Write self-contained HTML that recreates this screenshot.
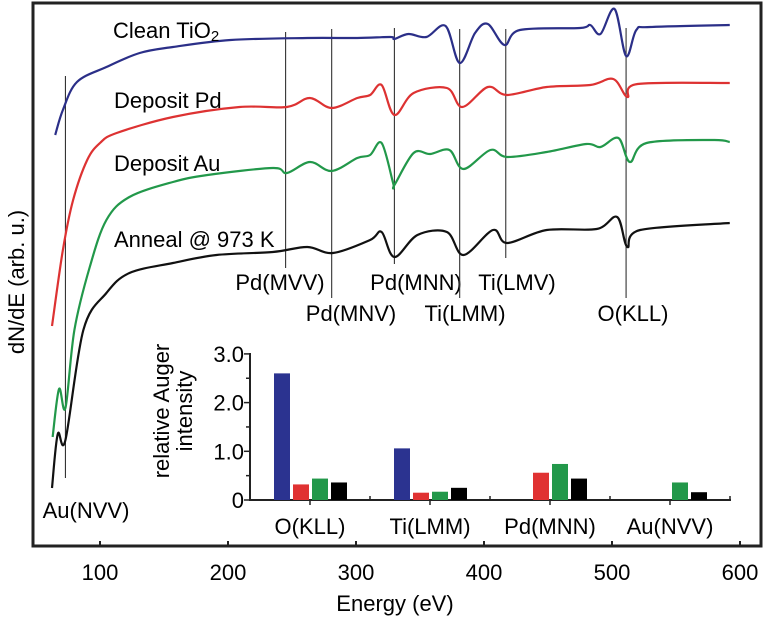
<!DOCTYPE html>
<html><head><meta charset="utf-8"><style>
html,body{margin:0;padding:0;background:#fff}
svg{display:block;font-family:"Liberation Sans",Arial,sans-serif}
</style></head><body>
<svg id="chart" width="774" height="618" viewBox="0 0 774 618" xmlns="http://www.w3.org/2000/svg">
<rect x="33" y="3" width="728" height="543" fill="none" stroke="#222" stroke-width="3"/>
<g id="xaxis"></g>
<text x="395" y="611" font-size="22" text-anchor="middle">Energy (eV)</text>
<text transform="translate(24,282) rotate(-90)" font-size="22" text-anchor="middle">dN/dE (arb. u.)</text>
<g id="marks"></g>
<g id="spectra"></g>
<g font-size="22">
<text x="113" y="38">Clean TiO<tspan font-size="15" dy="3">2</tspan></text>
<text x="114" y="108">Deposit Pd</text>
<text x="114" y="171">Deposit Au</text>
<text x="114" y="247">Anneal @ 973 K</text>
</g>
<g id="inset"></g>
</svg>
<script>
// ---- main spectra data (energy eV, intensity arb.) ----
const xTicks = [100, 200, 300, 400, 500, 600];
const cleanE = [65,71,82,105,131,157,202,262,301,327,330,341,355,370,381,393,403,416,428,475,483,491,502,511,519,530,592];
const cleanI = [411,436,464,479,493,499,506,508,508,509,507,512,509,520,483,513,522,501,516,518,521,512,537,490,516,519,521];
const pdE = [62.5,71,79,90,100,113,157,209,246,264,281,301,311,320,330,345,371,383,403,418,449,483,501,512,520,592];
const pdI = [220,296,346,386,403,413,429,439,439,448,438,448,451,461,431,453,458,439,459,451,459,461,467,449,462,463];
const auE = [63,68,73,80,92,105,123,157,184,235,246,264,281,301,311,320,329,330,345,358,373,384,405,418,449,480,491,505,514,527,579,592];
const auI = [109,157,138,216,279,326,349,364,371,378,373,384,375,388,391,403,363,361,393,392,396,377,396,389,394,402,399,408,384,403,406,404];
const anE = [62.5,67,73,87,105,123,157,191,235,262,282,311,320,330,348,371,384,407,418,449,488,504,512,522,592];
const anI = [58,112,106,216,253,273,283,291,294,299,293,306,314,289,311,314,291,316,303,316,317,329,299,316,323];
// peak marker energies and labels
const peakE = [73, 245, 281, 330, 381, 417, 511];
const peakNames = ["Au(NVV)","Pd(MVV)","Pd(MNV)","Pd(MNN)","Ti(LMM)","Ti(LMV)","O(KLL)"];
// ---- inset data ----
const insetCats = ["O(KLL)","Ti(LMM)","Pd(MNN)","Au(NVV)"];
const insetClean = [2.6, 1.06, 0, 0];
const insetPd = [0.32, 0.15, 0.56, 0];
const insetAu = [0.44, 0.17, 0.74, 0.36];
const insetAnneal = [0.36, 0.25, 0.44, 0.16];
const insetTicks = ["0","1.0","2.0","3.0"];

const NS = "http://www.w3.org/2000/svg";
function mk(tag, attrs, parent){const e=document.createElementNS(NS,tag);for(const k in attrs)e.setAttribute(k,attrs[k]);parent.appendChild(e);return e;}
const X = e => 100 + (e - 100) * 1.28;
const Y = v => 546 - v;

const xa = document.getElementById('xaxis');
xTicks.forEach(t=>{
  const l = mk('line',{x1:X(t),x2:X(t),y1:546,y2:541,stroke:'#222','stroke-width':2},xa);
  
  
  const tx = mk('text',{x:X(t),y:580,'font-size':22,'text-anchor':'middle'},xa);
  
  
  tx.textContent = t;
});

function smoothPath(E, I){
  const p = E.map((e,i)=>[X(e),Y(I[i])]);
  let d = `M${p[0][0]},${p[0][1]}`;
  for(let i=0;i<p.length-1;i++){
    const p0=p[Math.max(0,i-1)],p1=p[i],p2=p[i+1],p3=p[Math.min(p.length-1,i+2)];
    const c1=[p1[0]+(p2[0]-p0[0])/6,p1[1]+(p2[1]-p0[1])/6];
    const c2=[p2[0]-(p3[0]-p1[0])/6,p2[1]-(p3[1]-p1[1])/6];
    d+=` C${c1[0]},${c1[1]} ${c2[0]},${c2[1]} ${p2[0]},${p2[1]}`;
  }
  return d;
}
const sp = document.getElementById('spectra');
[[cleanE,cleanI,'#2b2f88','spectrum-clean-tio2'],[pdE,pdI,'#dd3232','spectrum-deposit-pd'],[auE,auI,'#22984a','spectrum-deposit-au'],[anE,anI,'#111','spectrum-anneal']].forEach(s=>{
  const p = mk('path',{d:smoothPath(s[0],s[1]),fill:'none',stroke:s[2],'stroke-width':2.2,'stroke-linejoin':'round'},sp);
  
  
});

// marker lines: [top y, bottom y, label x-center, label baseline]
const mkLayout = [[76,478,86,518],[32,268,280,290],[29,298,351,321],[28,264,416,290],[29,298,465,321],[29,258,517,290],[28,298,633,321]];
const mg = document.getElementById('marks');
peakE.forEach((e,i)=>{
  const L = mkLayout[i];
  const l = mk('line',{x1:X(e),x2:X(e),y1:L[0],y2:L[1],stroke:'#333','stroke-width':1.1},mg);
  
  
  const t = mk('text',{x:L[2],y:L[3],'font-size':22,'text-anchor':'middle'},mg);
  
  
  t.textContent = peakNames[i];
});

// inset
const ig = document.getElementById('inset');
const IY = v => 500 - v * 48.7;
const ICx = i => 310 + i * 120;
mk('line',{x1:250,x2:250,y1:353,y2:501,stroke:'#222','stroke-width':2},ig);
mk('line',{x1:249,x2:731,y1:500,y2:500,stroke:'#222','stroke-width':2},ig);
for(let k=0;k<=6;k++){
  const yy = IY(k*0.5);
  mk('line',{x1:k%2?246:244,x2:250,y1:yy,y2:yy,stroke:'#222','stroke-width':1.5},ig);
}
insetTicks.forEach((t,k)=>{
  const tx = mk('text',{x:244,y:IY(k)+8,'font-size':22,'text-anchor':'end'},ig);
  
  
  tx.textContent = t;
});
for(let k=0;k<=4;k++){const xx=250+k*120;mk('line',{x1:xx,x2:xx,y1:500,y2:496,stroke:'#222','stroke-width':1.5},ig);}
const series = [[insetClean,'#2b3390'],[insetPd,'#e03232'],[insetAu,'#22984a'],[insetAnneal,'#000']];
insetCats.forEach((c,i)=>{
  mk('line',{x1:ICx(i),x2:ICx(i),y1:500,y2:505,stroke:'#222','stroke-width':1.5},ig);
  const tx = mk('text',{x:ICx(i),y:534,'font-size':22,'text-anchor':'middle'},ig);
  
  
  tx.textContent = c;
  series.forEach((s,j)=>{
    const v = s[0][i];
    if(v<=0) return;
    const r = mk('rect',{x:ICx(i)-36+j*19,y:IY(v),width:16,height:500-IY(v),fill:s[1]},ig);
    
    
  });
});
const tt = mk('text',{transform:'translate(192,411) rotate(-90)','font-size':22,'text-anchor':'middle'},ig);


const t1 = mk('tspan',{x:0,y:-23},tt); t1.textContent='relative Auger';
const t2 = mk('tspan',{x:0,y:0},tt); t2.textContent='intensity';
</script>
</body></html>
